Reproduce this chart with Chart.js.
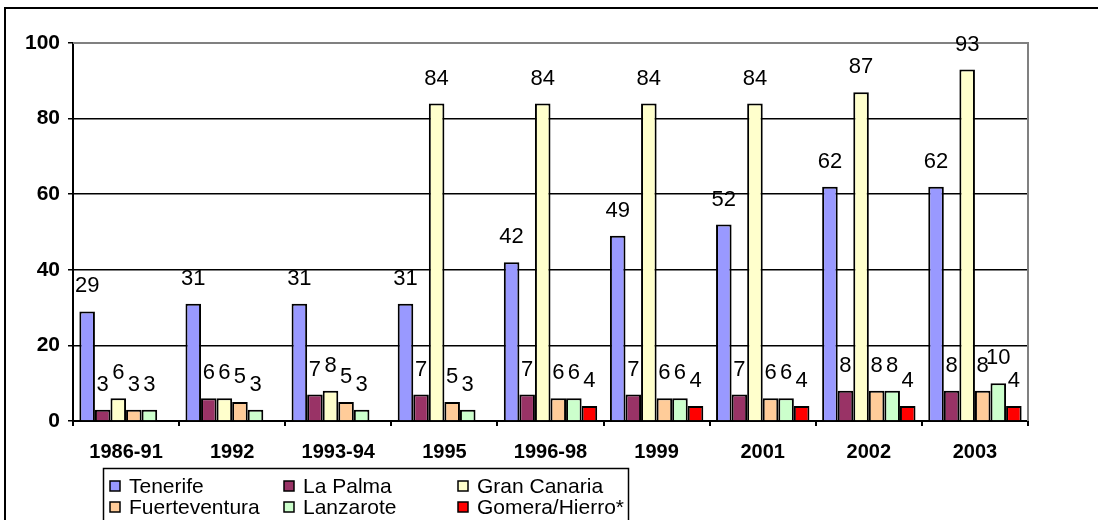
<!DOCTYPE html>
<html>
<head>
<meta charset="utf-8">
<script src="https://cdn.jsdelivr.net/npm/chart.js@4"></script>
<style>
  html, body { margin: 0; padding: 0; background: #fff; }
  #wrap { position: relative; width: 1098px; height: 520px; }
</style>
</head>
<body>
<div id="wrap"><canvas id="islandsChart" width="1098" height="520"></canvas></div>
<script>
const years = ["1986-91", "1992", "1993-94", "1995", "1996-98", "1999", "2001", "2002", "2003"];
const tenerife = [29, 31, 31, 31, 42, 49, 52, 62, 62];
const laPalma = [3, 6, 7, 7, 7, 7, 7, 8, 8];
const granCanaria = [6, 6, 8, 84, 84, 84, 84, 87, 93];
const fuerteventura = [3, 5, 5, 5, 6, 6, 6, 8, 8];
const lanzarote = [3, 3, 3, 3, 6, 6, 6, 8, 10];
const gomeraHierro = [null, null, null, null, 4, 4, 4, 4, 4];
const yTicks = [0, 20, 40, 60, 80, 100];

const seriesNames = ["Tenerife", "La Palma", "Gran Canaria", "Fuerteventura", "Lanzarote", "Gomera/Hierro*"];
const seriesColors = ["#9999FF", "#993366", "#FFFFCC", "#FFCC99", "#CCFFCC", "#FF0000"];
const seriesData = [tenerife, laPalma, granCanaria, fuerteventura, lanzarote, gomeraHierro];

Chart.defaults.font.family = 'Arial, "Liberation Sans", sans-serif';
Chart.defaults.color = "#000";

// value labels above each bar
const barLabels = {
  id: "barLabels",
  afterDatasetsDraw(chart) {
    const ctx = chart.ctx;
    ctx.save();
    ctx.font = '22px Arial, "Liberation Sans", sans-serif';
    ctx.fillStyle = "#000";
    ctx.textAlign = "center";
    ctx.textBaseline = "middle";
    chart.data.datasets.forEach((ds, i) => {
      const meta = chart.getDatasetMeta(i);
      meta.data.forEach((bar, j) => {
        const v = ds.data[j];
        if (v === null || v === undefined) return;
        ctx.fillText(String(v), bar.x, bar.y - 25);
      });
    });
    ctx.restore();
  },
};

// outer frame, grey plot border and the legend box
const frame = {
  id: "frame",
  beforeDatasetsDraw(chart) {
    const { ctx, chartArea: a } = chart;
    ctx.save();
    ctx.strokeStyle = "#808080";
    ctx.lineWidth = 2;
    ctx.beginPath();
    ctx.moveTo(a.left, a.top);
    ctx.lineTo(a.right, a.top);
    ctx.lineTo(a.right, a.bottom);
    ctx.stroke();
    ctx.restore();
  },
  afterDraw(chart) {
    const ctx = chart.ctx;
    ctx.save();
    ctx.strokeStyle = "#000";
    ctx.lineWidth = 2;
    ctx.beginPath();
    ctx.moveTo(5, 530);
    ctx.lineTo(5, 8);
    ctx.lineTo(1110, 8);
    ctx.stroke();

    // legend
    ctx.lineWidth = 1.5;
    ctx.strokeRect(103.5, 468.5, 525, 60);
    const colX = [110, 284, 458];
    const rowY = [486, 507];
    ctx.font = '21px Arial, "Liberation Sans", sans-serif';
    ctx.textBaseline = "middle";
    ctx.textAlign = "left";
    seriesNames.forEach((name, i) => {
      const x = colX[i % 3];
      const y = rowY[Math.floor(i / 3)];
      ctx.fillStyle = seriesColors[i];
      ctx.fillRect(x, y - 5, 10, 10);
      ctx.lineWidth = 1.5;
      ctx.strokeStyle = "#000";
      ctx.strokeRect(x, y - 5, 10, 10);
      ctx.fillStyle = "#000";
      ctx.fillText(name, x + 19, y + 1);
    });
    ctx.restore();
  },
};

const ctx = document.getElementById("islandsChart").getContext("2d");

const islandsChart = new Chart(ctx, {
  type: "bar",
  data: {
    labels: years,
    datasets: seriesNames.map((name, i) => ({
      label: name,
      data: seriesData[i],
      backgroundColor: seriesColors[i],
      borderColor: "#000",
      borderWidth: 2,
      categoryPercentage: 0.88,
      barPercentage: 1.0,
    })),
  },
  options: {
    responsive: false,
    animation: false,
    layout: {
      padding: { left: 0, top: 43, right: 70, bottom: 0 },
    },
    scales: {
      x: {
        offset: true,
        grid: {
          offset: true,
          drawOnChartArea: false,
          drawTicks: true,
          tickLength: 5,
          color: "#000",
          lineWidth: 2,
        },
        border: { color: "#000", width: 2 },
        ticks: {
          font: { size: 20, weight: "bold" },
          padding: 14,
          maxRotation: 0,
          autoSkip: false,
        },
        afterFit: (scale) => {
          scale.height = 99;
        },
      },
      y: {
        min: 0,
        max: 100,
        afterBuildTicks: (scale) => {
          scale.ticks = yTicks.map((v) => ({ value: v }));
        },
        grid: {
          color: (c) => (c.tick && c.tick.value === 100 ? "#808080" : "#000"),
          tickColor: "#000",
          tickLength: 5,
          lineWidth: 1.5,
        },
        border: { color: "#000", width: 2 },
        ticks: {
          font: { size: 21, weight: "bold" },
          padding: 8,
        },
        afterFit: (scale) => {
          scale.width = 73;
        },
      },
    },
    plugins: {
      legend: { display: false },
      title: { display: false },
      tooltip: { enabled: false },
    },
  },
  plugins: [barLabels, frame],
});
</script>
</body>
</html>
